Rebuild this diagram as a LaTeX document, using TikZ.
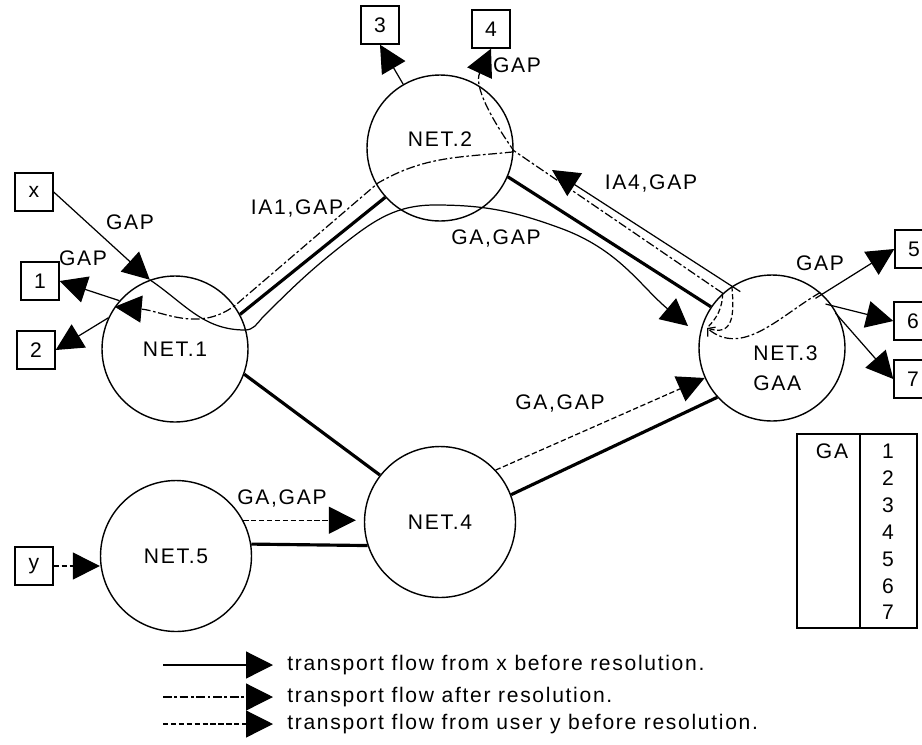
\documentclass[tikz,border=0pt]{standalone}
\usepackage{fontspec}
\setmainfont{Liberation Sans}[LetterSpace=8]
\usetikzlibrary{arrows.meta,calc}

\begin{document}
\begin{tikzpicture}[x=0.02cm,y=-0.02cm,font=\fontsize{12}{15.3}\selectfont,
  reseau/.style={circle,draw,line width=0.8pt,minimum size=2.92cm,inner sep=0pt},
  boite/.style={draw,line width=0.8pt,minimum size=0.76cm,inner sep=0pt},
  fleche/.style={-{Triangle[length=0.54cm,width=0.54cm]}},
  mince/.style={line width=0.7pt},
  epais/.style={line width=1.8pt},
  tiretpoint/.style={line width=0.7pt,dash pattern=on 5pt off 1.5pt on 1.5pt off 1.5pt},
  tiret/.style={line width=0.7pt,dash pattern=on 3pt off 1.5pt}]

\useasboundingbox (0,0) rectangle (922,744);

%Réseaux
\node[reseau] (net1) at (175,349) {NET.1};
\node[reseau,text depth=0.35cm] (net2) at (440,148) {NET.2};
\node[reseau] (net3) at (772,348) {};
\node[anchor=west,align=left,inner sep=0pt,font=\fontsize{12}{17}\selectfont] (gaa) at (753,368) {NET.3\\GAA};
\node[reseau,minimum size=3.02cm] (net4) at (440,522) {NET.4};
\node[reseau,minimum size=3.02cm] (net5) at (176,556) {NET.5};

%Utilisateurs
\node[boite] (bx) at (34,192) {x};
\node[boite] (b1) at (40,281) {1};
\node[boite] (b2) at (36,350) {2};
\node[boite] (b3) at (380,25) {3};
\node[boite] (b4) at (491,29) {4};
\node[boite] (b5) at (914,249) {5};
\node[boite] (b6) at (913,321) {6};
\node[boite] (b7) at (913,379) {7};
\node[boite] (by) at (34,566) {y};

%Liens de transport
\draw[epais] (net1.28) -- (net2.222);
\draw[epais] (net2.337) -- (net3.146);
\draw[epais] (net1.340) -- (net4.142);
\draw[epais] (net5.9) -- (net4.198);
\draw[epais] (net4.21) -- (net3.222);

%Flux de x avant résolution
\coordinate (ga3) at (688,326);
\coordinate (ia4) at (552,170);
\draw[mince,fleche] (bx.east) -- (net1.110);
\draw[mince,fleche] (net1.110) to[out=-34,in=180] (245,330) to[out=0,in=-130] (262,318)
  to[out=45,in=218] (345,243) to[out=38,in=180] (435,205) to[out=0,in=160] (560,228) to[out=-20,in=140] (ga3);
\draw[mince,fleche,shorten <=-0.2cm] (net3.123) -- (ia4);
\draw[mince,fleche] (net1.139) -- (b1.east);
\draw[mince,fleche] (net1.155) -- (b2.east);
\draw[mince,fleche] (net2.120) -- (b3.south);
\draw[mince,fleche,shorten <=-0.16cm] (net3.47) -- (b5.west);
\draw[mince,fleche,shorten <=-0.14cm] (net3.35) -- (b6.west);
\draw[mince,fleche,shorten <=-0.1cm] (net3.25) -- (b7.west);

%Flux après résolution
\coordinate (pointe3) at (707,328);
\draw[tiretpoint,fleche] (net3.132) -- (net2.-2) to[out=125,in=245] (b4.south);
\draw[tiretpoint,fleche] (net2.-3) to[out=186,in=30] (378,183) -- (238,303) to[out=220,in=-5] (net1.145);
\draw[tiret] (net3.132) to[out=-92,in=45] (pointe3);
\draw[tiret,looseness=1.5] (net3.123) to[out=-85,in=-20] (pointe3);
\draw[tiretpoint,-{Straight Barb[length=3pt,width=7pt]}] (net3.49) to[out=210,in=-40] (pointe3);

%Flux de l'utilisateur y
\draw[tiret,fleche] (by.east) -- (by.east -| net5.west);
\draw[tiret,fleche,shorten >=0.16cm] (net5.28) -- (net5.28 -| net4.west);
\draw[tiret,fleche] (net4.43) -- (net3.204);

%Étiquettes
\node (gapx) at (130,222) {GAP};
\node (gap1) at (83,258) {GAP};
\node (ia1) at (297,208) {IA1,GAP};
\node (gagap2) at (496,238) {GA,GAP};
\node (ia4gap) at (651,183) {IA4,GAP};
\node (gap4) at (517,65) {GAP};
\node (gap5) at (820,263) {GAP};
\node (gagap3) at (560,403) {GA,GAP};
\node (gagap4) at (282,498) {GA,GAP};

%Table GA
\draw[line width=0.8pt] (797,434) rectangle (917,628);
\draw[line width=0.8pt] (860,434) -- (860,628);
\node (ga) at (832,451) {GA};
\node[align=center] (liste) at (888,532) {1\\2\\3\\4\\5\\6\\7};

%Légende
\coordinate (l1) at (163,665);
\coordinate (l2) at (163,697);
\coordinate (l3) at (163,724);
\node[anchor=west,inner sep=0.28cm] (leg1) at (273,665) {transport flow from x before resolution.};
\node[anchor=west,inner sep=0.28cm] (leg2) at (273,697) {transport flow after resolution.};
\node[anchor=west,inner sep=0.28cm] (leg3) at (273,724) {transport flow from user y before resolution.};
\draw[mince,fleche] (l1) -- (leg1.west);
\draw[tiretpoint,fleche] (l2) -- (leg2.west);
\draw[tiret,fleche] (l3) -- (leg3.west);

\end{tikzpicture}
\end{document}
